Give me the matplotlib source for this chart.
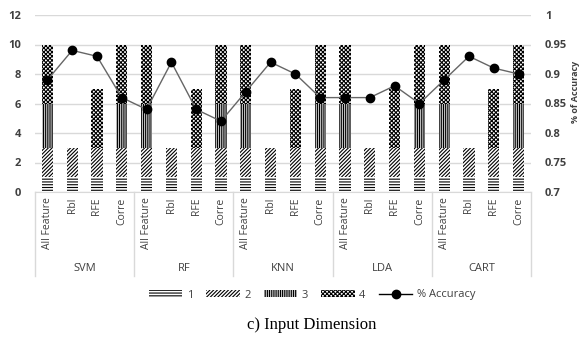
import matplotlib
matplotlib.use('Agg')
import matplotlib.pyplot as plt
from matplotlib.patches import Patch
from matplotlib.lines import Line2D
from matplotlib.ticker import FuncFormatter

models = ['SVM', 'RF', 'KNN', 'LDA', 'CART']
methods = ['All Feature', 'Rbl', 'RFE', 'Corre']

# stacked segment sizes per method (same for every model)
seg1 = [1, 1, 1, 1]
seg2 = [2, 2, 2, 2]
seg3 = [3, 0, 0, 3]
seg4 = [4, 0, 4, 4]

accuracy = [0.89, 0.94, 0.93, 0.86,
            0.84, 0.92, 0.84, 0.82,
            0.87, 0.92, 0.90, 0.86,
            0.86, 0.86, 0.88, 0.85,
            0.89, 0.93, 0.91, 0.90]

hatches = ['-' * 6, '/' * 9, '|' * 9, 'x' * 8]
legend_names = ['1', '2', '3', '4']

txt = '#404040'
plt.rcParams['font.family'] = ['Open Sans', 'DejaVu Sans']
plt.rcParams['hatch.linewidth'] = 0.8

fig = plt.figure(figsize=(5.85, 3.38), dpi=100)
ax = fig.add_axes([35 / 585, 1 - 192 / 338, 496 / 585, 177 / 338])

n = len(models) * len(methods)
x = list(range(n))
segs = [seg1, seg2, seg3, seg4]
bottom = [0] * n
for s, h in zip(segs, hatches):
    vals = [s[i % 4] for i in range(n)]
    ax.bar(x, vals, 0.45, bottom=bottom, color='white', edgecolor='black',
           hatch=h, linewidth=0, zorder=2)
    bottom = [b + v for b, v in zip(bottom, vals)]

ax.set_xlim(-0.5, n - 0.5)
ax.set_ylim(0, 12)
ax.set_yticks(range(0, 13, 2))
ax.yaxis.grid(True, color='#d9d9d9', linewidth=1, zorder=0)
ax.set_axisbelow(True)
for sp in ['top', 'right', 'left']:
    ax.spines[sp].set_visible(False)
ax.spines['bottom'].set_color('#d9d9d9')
ax.tick_params(axis='y', length=0, labelsize=8, labelcolor=txt, pad=10)
ax.tick_params(axis='x', length=0, labelsize=7.5, labelcolor=txt, pad=4)
for lab in ax.get_yticklabels():
    lab.set_fontweight('bold')
ax.set_xticks(x)
ax.set_xticklabels(methods * len(models), rotation=90, va='top')

# group separators and labels
trans = ax.get_xaxis_transform()
for g in range(len(models) + 1):
    ax.add_line(Line2D([g * 4 - 0.5] * 2, [0, -0.475], transform=trans,
                       color='#d9d9d9', linewidth=1, clip_on=False))
for g, m in enumerate(models):
    ax.text(g * 4 + 1.5, -0.43, m, transform=trans, ha='center', va='center',
            fontsize=8, color=txt)

ax2 = ax.twinx()
ax2.plot(x, accuracy, color='#666666', linewidth=1, marker='o',
         markersize=6, markerfacecolor='black', markeredgecolor='black', zorder=3)
ax2.set_ylim(0.7, 1.0)
ax2.set_yticks([0.7, 0.75, 0.8, 0.85, 0.9, 0.95, 1.0])
ax2.yaxis.set_major_formatter(FuncFormatter(lambda v, p: '%g' % round(v, 2)))
ax2.tick_params(axis='y', length=0, labelsize=8, labelcolor=txt, pad=10)
for lab in ax2.get_yticklabels():
    lab.set_fontweight('bold')
for sp in ax2.spines.values():
    sp.set_visible(False)

fig.text(575 / 585, 1 - 92 / 338, '% of Accuracy', rotation=90, ha='center',
         va='center', fontsize=6.5, fontweight='bold', color=txt)

handles = [Patch(facecolor='white', edgecolor='black', hatch=h, linewidth=0)
           for h in hatches]
handles.append(Line2D([], [], color='black', linewidth=1, marker='o',
                      markersize=6, markerfacecolor='black'))
fig.legend(handles, legend_names + ['% Accuracy'], loc='center',
           bbox_to_anchor=(312 / 585, 1 - 295 / 338), ncol=5, frameon=False,
           fontsize=8, labelcolor=txt, handlelength=3.0, handleheight=0.5,
           handletextpad=0.4, columnspacing=1.2)

fig.text(312 / 585, 1 - 325 / 338, 'c) Input Dimension', ha='center', va='center',
         fontsize=12, family='Liberation Serif', color='black')

plt.savefig('out.png', dpi=100)
